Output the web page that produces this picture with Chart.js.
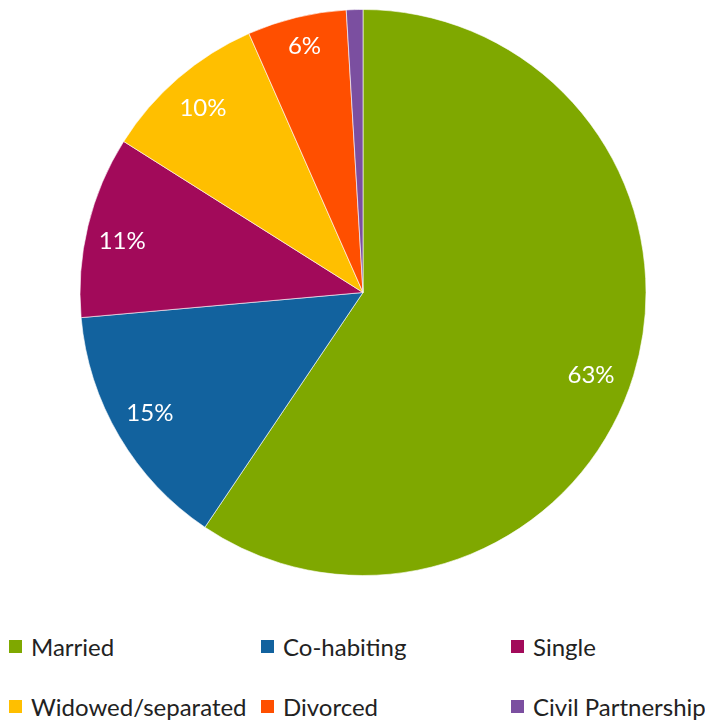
<!DOCTYPE html>
<html>
<head>
<meta charset="utf-8">
<script src="https://cdn.jsdelivr.net/npm/chart.js@4.4.0/dist/chart.umd.min.js"></script>
<style>
  html, body { margin: 0; padding: 0; background: #fff; }
  #wrap { position: relative; width: 705px; height: 723px; overflow: hidden; }
  #c { position: absolute; left: 0; top: 0; }
  .leg { position: absolute; font-family: Lato, "Open Sans", sans-serif; font-size: 24px; color: #222; white-space: nowrap; line-height: 26px; }
  .leg span.box { position: absolute; left: 0; top: 6px; width: 13px; height: 13px; }
  .leg span.txt { position: absolute; left: 22px; top: 0; }
</style>
</head>
<body>
<div id="wrap">
  <canvas id="c" width="705" height="585"></canvas>
</div>
<script>
const categories = ["Married", "Co-habiting", "Single", "Widowed/separated", "Divorced", "Civil Partnership"];
const values = [63, 15, 11, 10, 6, 1];
const shownLabels = ["63%", "15%", "11%", "10%", "6%", ""];
const colors = ["#7FA800", "#12629E", "#A20A5A", "#FFBF00", "#FF4F00", "#7B4FA0"];

// small label nudges (style only, px) to mimic the original's best-fit placement
const labelNudge = [[0, 13], [-4, -2], [-5, 5], [-1, -2], [0, -12], [0, 0]];

const labelPlugin = {
  id: "sliceLabels",
  afterDatasetsDraw(chart) {
    const ctx = chart.ctx;
    const meta = chart.getDatasetMeta(0);
    ctx.save();
    ctx.fillStyle = "#ffffff";
    ctx.font = "24px Lato, 'Open Sans', sans-serif";
    ctx.textAlign = "center";
    ctx.textBaseline = "middle";
    meta.data.forEach((arc, i) => {
      const t = shownLabels[i];
      if (!t) return;
      const p = arc.getProps(["x", "y", "startAngle", "endAngle", "outerRadius"], true);
      const mid = (p.startAngle + p.endAngle) / 2;
      const r = p.outerRadius * 0.85;
      ctx.fillText(t, p.x + Math.cos(mid) * r - 2 + labelNudge[i][0], p.y + Math.sin(mid) * r + labelNudge[i][1]);
    });
    ctx.restore();
  }
};

new Chart(document.getElementById("c"), {
  type: "pie",
  data: {
    labels: categories,
    datasets: [{
      data: values,
      backgroundColor: colors,
      borderColor: "rgba(255,255,255,0.6)",
      borderWidth: 1
    }]
  },
  options: {
    responsive: false,
    animation: false,
    layout: { padding: { left: 21, right: 0, top: 9, bottom: 9 } },
    plugins: {
      legend: { display: false },
      tooltip: { enabled: false }
    }
  },
  plugins: [labelPlugin]
});

// legend (built from the arrays)
const legendCols = [9, 261, 511];
const legendRows = [634, 694];
const wrap = document.getElementById("wrap");
categories.forEach((name, i) => {
  const d = document.createElement("div");
  d.className = "leg";
  d.style.left = legendCols[i % 3] + "px";
  d.style.top = legendRows[Math.floor(i / 3)] + "px";
  const b = document.createElement("span");
  b.className = "box";
  b.style.background = colors[i];
  const t = document.createElement("span");
  t.className = "txt";
  t.textContent = name;
  d.appendChild(b);
  d.appendChild(t);
  wrap.appendChild(d);
});
</script>
</body>
</html>
